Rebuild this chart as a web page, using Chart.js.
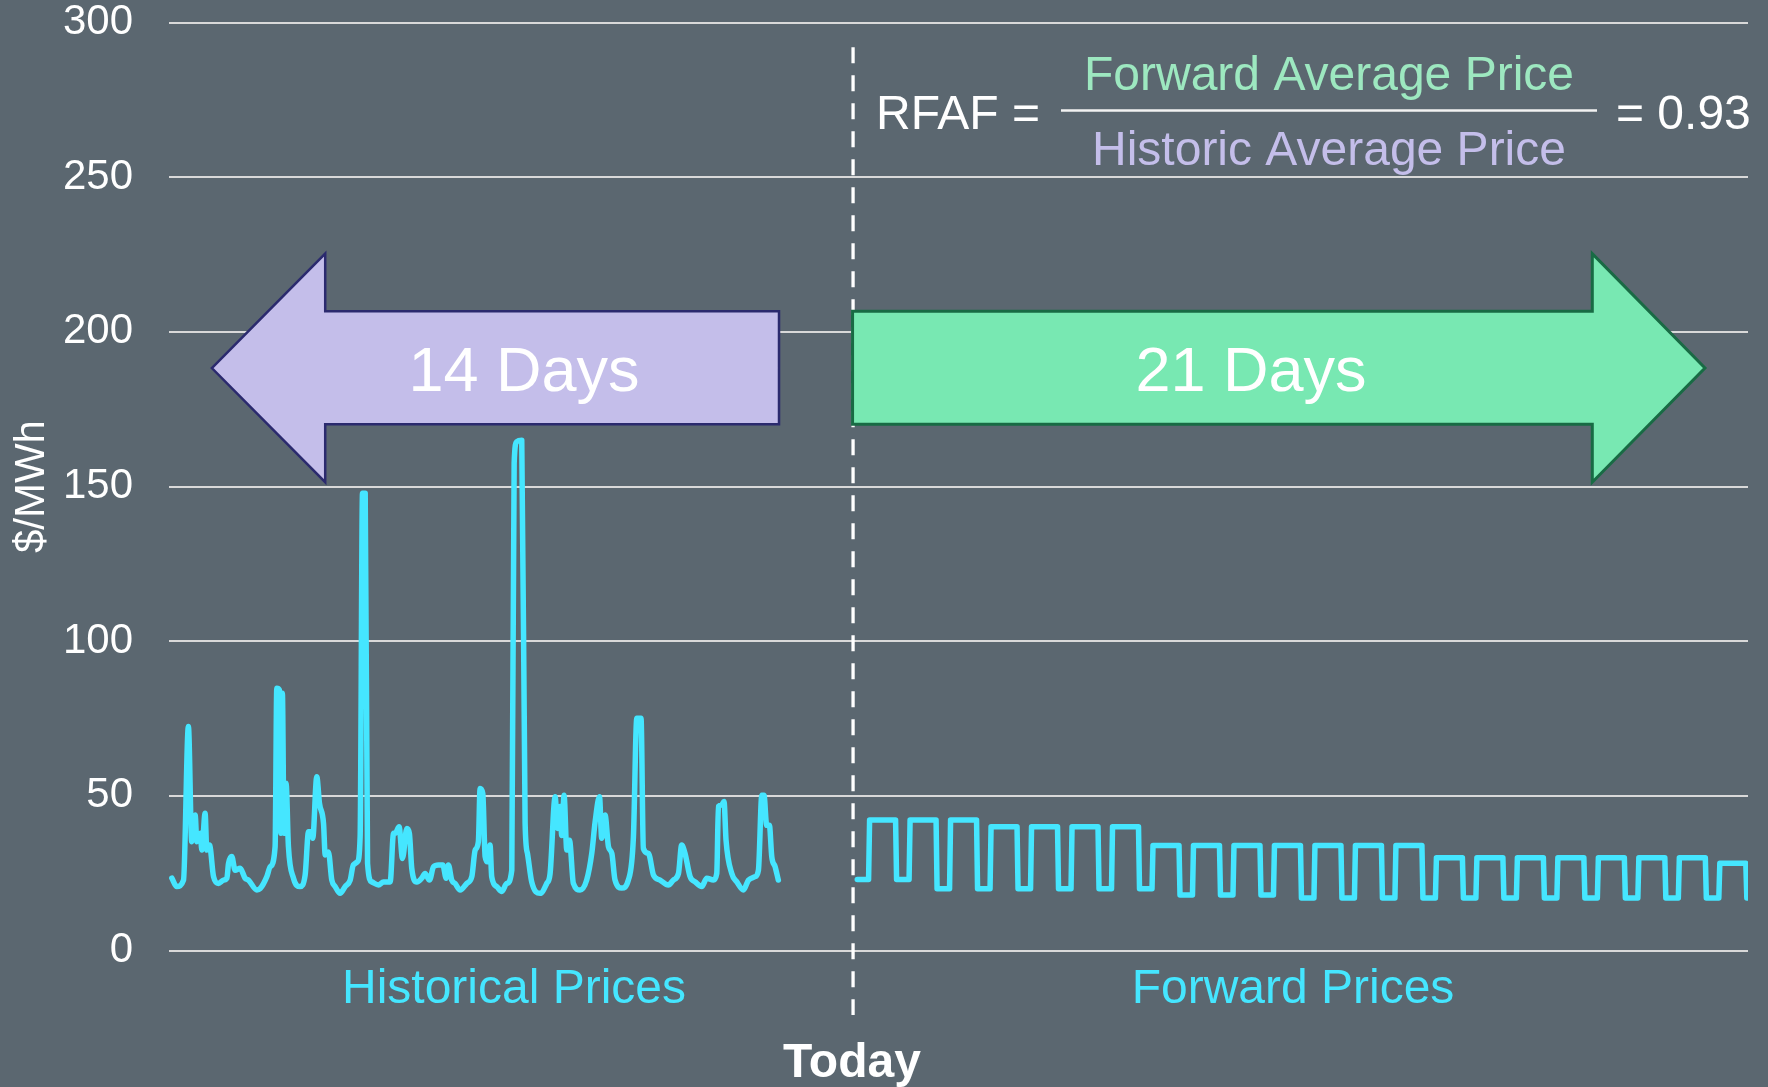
<!DOCTYPE html>
<html>
<head>
<meta charset="utf-8">
<script src="https://cdn.jsdelivr.net/npm/chart.js@4.4.1/dist/chart.umd.min.js"></script>
<style>
html,body{margin:0;padding:0;background:#5B6770;}
#wrap{width:1768px;height:1087px;position:relative;}
</style>
</head>
<body>
<div id="wrap"><canvas id="c"></canvas></div>
<script>
// ---- Data (hours relative to the start of the forward window) ----
const histHours = [-406.3,-403.4,-399.4,-396.5,-394.5,-392.5,-391.5,-389.5,-388.5,-386.6,
  -385.6,-384.0,-381.6,-378.7,-375.7,-373.7,-372.7,-370.8,-368.8,-365.8,
  -362.9,-360.9,-355.9,-354.0,-350.0,-348.0,-345.1,-344.1,-342.5,-341.7,
  -340.8,-339.8,-338.6,-337.2,-334.2,-330.3,-327.3,-325.3,-323.9,-322.8,
  -320.4,-318.8,-316.4,-315.4,-313.5,-311.5,-309.5,-306.6,-303.6,-300.6,
  -298.7,-296.3,-294.7,-293.3,-291.7,-290.3,-287.8,-283.8,-280.9,-276.9,
  -274.9,-273.9,-271.6,-269.6,-267.0,-265.5,-264.1,-261.1,-258.2,-256.2,
  -253.6,-251.2,-248.3,-245.7,-243.7,-242.4,-240.4,-238.4,-235.4,-231.5,
  -228.5,-226.5,-224.6,-223.6,-222.0,-220.6,-219.2,-217.7,-216.7,-213.7,
  -210.7,-207.8,-204.8,-203.4,-201.9,-198.9,-196.9,-195.5,-193.0,-188.0,
  -184.1,-182.1,-179.1,-177.7,-176.2,-175.2,-173.8,-172.2,-170.6,-168.3,
  -164.3,-160.4,-157.4,-155.4,-152.8,-151.5,-149.5,-147.5,-145.5,-143.6,
  -139.6,-135.7,-132.7,-130.7,-128.2,-126.8,-123.8,-120.8,-116.9,-112.0,
  -109.0,-106.0,-104.1,-102.1,-99.1,-96.1,-92.2,-89.2,-85.3,-83.3,
  -82.3,-80.3,-79.0,-77.8,-74.4,-71.4,-67.5,-64.5,-60.6,-58.6,
  -56.6,-55.3,-53.7,-52.1,-50.7,-48.7,-46.8];
const histPrice = [23.4,20.7,22.8,72.4,35.2,43.8,35.2,37.9,32.5,44.4,
  32.5,34.1,23.9,21.7,22.8,23.4,28.2,30.4,26.0,26.6,
  23.4,22.8,19.6,20.0,23.9,27.1,33.6,84.8,84.2,37.9,
  83.2,37.9,54.1,33.6,23.4,20.7,24.4,38.4,38.4,36.3,
  56.2,47.6,41.1,30.9,31.9,22.8,20.7,18.5,20.7,22.8,
  27.7,28.7,36.8,147.8,147.8,28.2,22.2,21.2,22.2,22.2,
  37.9,37.9,40.0,29.8,39.5,37.9,26.6,22.2,23.4,24.9,
  22.8,27.1,27.7,27.7,23.4,27.7,22.8,21.7,19.6,21.7,
  23.9,32.5,35.2,52.4,50.8,30.4,28.7,34.1,23.9,20.7,
  19.1,21.7,26.0,157.5,164.5,165.0,41.1,31.4,22.2,18.5,
  21.7,24.9,49.7,39.5,46.6,37.2,50.2,32.5,35.7,21.7,
  19.6,22.8,31.4,41.6,49.7,36.3,43.8,33.6,31.4,22.8,
  20.2,22.8,36.8,75.1,75.1,33.0,31.4,24.4,22.8,21.2,
  22.8,24.9,34.1,31.4,23.9,22.2,20.7,23.4,22.8,24.9,
  46.6,47.1,48.2,35.7,24.9,22.2,19.6,22.8,23.9,26.0,
  50.2,50.2,40.5,40.5,30.4,27.1,22.8];
// forward daily peak block prices (22 days) and off-peak prices (before each peak, plus the final one)
const fwdPeak = [42.2,42.2,42.2,40,40,40,40,34,34,34,34,34,34,34,30,30,30,30,30,30,30,28.2];
const fwdOffPeak = [23,23,20,20,20,20,20,20,18,18,18,17,17,17,17,17,17,17,17,17,17,17,17];
const peakStartHour = 7, peakEndHour = 23, hoursPerDay = 24;
const yTicks = [0,50,100,150,200,250,300];
const xRange = [-408, 528];
const todayHour = -2.5;

const histPts = histHours.map((h,i)=>({x:h, y:histPrice[i]}));
const fwdPts = [{x:0, y:fwdOffPeak[0]}];
for (let d=0; d<fwdPeak.length; d++){
  const s = d*hoursPerDay;
  fwdPts.push({x:s+peakStartHour-0.3, y:fwdOffPeak[d]});
  fwdPts.push({x:s+peakStartHour+0.3, y:fwdPeak[d]});
  fwdPts.push({x:s+peakEndHour-0.3, y:fwdPeak[d]});
  fwdPts.push({x:s+peakEndHour+0.3, y:fwdOffPeak[d+1]});
}
fwdPts.push({x:fwdPeak.length*hoursPerDay, y:fwdOffPeak[fwdOffPeak.length-1]});

const FONT = '"Liberation Sans", Arial, Helvetica, sans-serif';
Chart.defaults.font.family = FONT;

const overlay = {
  id:'overlay',
  afterDatasetsDraw(chart){
    const ctx = chart.ctx, xs = chart.scales.x, ys = chart.scales.y;
    const X = v=>xs.getPixelForValue(v), Y = v=>ys.getPixelForValue(v);
    ctx.save();
    // Today dashed line
    ctx.strokeStyle = '#FFFFFF';
    ctx.lineWidth = 3.3;
    ctx.setLineDash([16,12]);
    ctx.beginPath();
    ctx.moveTo(X(todayHour), Y(292));
    ctx.lineTo(X(todayHour), Y(-20.8));
    ctx.stroke();
    ctx.setLineDash([]);

    // Arrows (in data units)
    function arrow(pts, fill, stroke, lw){
      ctx.beginPath();
      pts.forEach((p,i)=>{ const px=X(p[0]), py=Y(p[1]); i?ctx.lineTo(px,py):ctx.moveTo(px,py); });
      ctx.closePath();
      ctx.fillStyle = fill; ctx.fill();
      ctx.lineJoin = 'miter'; ctx.lineWidth = lw; ctx.strokeStyle = stroke; ctx.stroke();
    }
    const yMid=188.3, yShT=206.7, yShB=170.1, yHdT=225.3, yHdB=151.4;
    arrow([[-382.6,yMid],[-315.4,yHdT],[-315.4,yShT],[-46.4,yShT],[-46.4,yShB],[-315.4,yShB],[-315.4,yHdB]],
          '#C4BEEA', '#2B2A6E', 2.5);
    arrow([[502.5,yMid],[435.7,yHdT],[435.7,yShT],[-2.8,yShT],[-2.8,yShB],[435.7,yShB],[435.7,yHdB]],
          '#78E8B2', '#186B44', 3);

    ctx.textAlign = 'center';
    ctx.textBaseline = 'alphabetic';
    ctx.fillStyle = '#FFFFFF';
    ctx.font = '63px ' + FONT;
    ctx.fillText('14 Days', 524, 391);
    ctx.fillText('21 Days', 1251, 391);

    // Formula
    ctx.font = '48px ' + FONT;
    ctx.fillStyle = '#9DE8C0';
    ctx.fillText('Forward Average Price', 1329, 90);
    ctx.fillStyle = '#C4BEEA';
    ctx.fillText('Historic Average Price', 1329, 165);
    ctx.strokeStyle = '#F2F2F2'; ctx.lineWidth = 2.5;
    ctx.beginPath(); ctx.moveTo(1061,110.5); ctx.lineTo(1597,110.5); ctx.stroke();
    ctx.fillStyle = '#FFFFFF';
    ctx.textAlign = 'left';
    ctx.fillText('RFAF =', 876, 129);
    ctx.fillText('= 0.93', 1616, 129);

    // Bottom labels
    ctx.textAlign = 'center';
    ctx.font = '48px ' + FONT;
    ctx.fillStyle = '#45E6FF';
    ctx.fillText('Historical Prices', 514, 1003);
    ctx.fillText('Forward Prices', 1293, 1003);
    ctx.fillStyle = '#FFFFFF';
    ctx.font = 'bold 48px ' + FONT;
    ctx.fillText('Today', 852, 1077);
    ctx.restore();
  }
};

new Chart(document.getElementById('c'), {
  type:'line',
  data:{datasets:[
    {label:'Historical', data:histPts, borderColor:'#45E6FF', borderWidth:5.5, pointRadius:0,
     cubicInterpolationMode:'monotone', borderJoinStyle:'round', borderCapStyle:'round', fill:false},
    {label:'Forward', data:fwdPts, borderColor:'#45E6FF', borderWidth:5.5, pointRadius:0,
     tension:0, borderJoinStyle:'round', borderCapStyle:'round', fill:false}
  ]},
  options:{
    responsive:true, maintainAspectRatio:false, animation:false,
    layout:{padding:{left:7, top:22.5, right:20, bottom:136.4}},
    plugins:{legend:{display:false}, tooltip:{enabled:false}},
    scales:{
      x:{type:'linear', min:xRange[0], max:xRange[1], display:false},
      y:{min:yTicks[0], max:yTicks[yTicks.length-1],
         afterBuildTicks(s){ s.ticks = yTicks.map(v=>({value:v})); },
         ticks:{color:'#FFFFFF', font:{size:42}, padding:36},
         grid:{color:'#D9D9D9', lineWidth:2, drawTicks:false},
         border:{display:false},
         title:{display:true, text:'$/MWh', color:'#FFFFFF', font:{size:42}, padding:0},
         afterFit(s){ s.width = 162; s.paddingTop = 0; s.paddingBottom = 0; }
      }
    }
  },
  plugins:[overlay]
});
</script>
</body>
</html>
